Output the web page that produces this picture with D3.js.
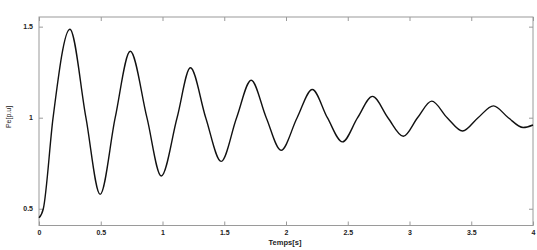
<!DOCTYPE html>
<html><head><meta charset="utf-8">
<script src="https://cdn.jsdelivr.net/npm/d3@7"></script>
<style>body{margin:0;background:#fff}svg{display:block}</style>
</head><body><svg id="c" width="537" height="250"></svg>
<script>
const xTicks = [0, 0.5, 1, 1.5, 2, 2.5, 3, 3.5, 4];
const xTickLabels = ["0", "0.5", "1", "1.5", "2", "2.5", "3", "3.5", "4"];
const yTicks = [0.5, 1, 1.5];
const yTickLabels = ["0.5", "1", "1.5"];
const time = [0, 0.035, 0.114, 0.25, 0.38, 0.495, 0.617, 0.739, 0.874, 0.99, 1.118, 1.226, 1.35, 1.475, 1.6, 1.718, 1.84, 1.96, 2.09, 2.213, 2.335, 2.457, 2.58, 2.70, 2.825, 2.95, 3.065, 3.18, 3.305, 3.43, 3.555, 3.68, 3.80, 3.92, 4.0];
const pe   = [0.45, 0.5, 1.0, 1.486, 1.0, 0.579, 1.0, 1.365, 1.0, 0.68, 1.0, 1.274, 1.0, 0.76, 1.0, 1.206, 1.0, 0.821, 1.0, 1.155, 1.0, 0.867, 1.0, 1.117, 1.0, 0.898, 1.0, 1.091, 1.0, 0.927, 1.0, 1.065, 1.0, 0.946, 0.96];

const svg = d3.select("#c");
const L = 39, R = 533, T = 17, B = 225.5;
const x = d3.scaleLinear().domain([0, 4]).range([L, R]);
const y = d3.scaleLinear().domain([0.408, 1.553]).range([B, T]);
const frame = "#9a9a9a";
const font = "Liberation Sans, Arial, sans-serif";

svg.append("rect").attr("x", L).attr("y", T).attr("width", R - L).attr("height", B - T)
  .attr("fill", "none").attr("stroke", frame).attr("stroke-width", 1);

const ax = d3.axisBottom(x).tickValues(xTicks).tickFormat((d, i) => xTickLabels[i]).tickSize(-4).tickPadding(5);
const gx = svg.append("g").attr("transform", `translate(0,${B})`).call(ax);
const axT = d3.axisTop(x).tickValues(xTicks).tickFormat("").tickSize(-4);
const gxt = svg.append("g").attr("transform", `translate(0,${T})`).call(axT);
const ay = d3.axisLeft(y).tickValues(yTicks).tickFormat((d, i) => yTickLabels[i]).tickSize(-4).tickPadding(6);
const gy = svg.append("g").attr("transform", `translate(${L},0)`).call(ay);
const ayR = d3.axisRight(y).tickValues(yTicks).tickFormat("").tickSize(-4);
const gyr = svg.append("g").attr("transform", `translate(${R},0)`).call(ayR);
[gx, gxt, gy, gyr].forEach(g => {
  g.select(".domain").remove();
  g.selectAll("line").attr("stroke", frame);
  g.selectAll("text").attr("fill", "#222").style("font-family", font).style("font-size", "7px").style("font-weight", "bold");
});

const line = d3.line().x((d, i) => x(time[i])).y(d => y(d)).curve(d3.curveMonotoneX);
svg.append("path").datum(pe).attr("d", line).attr("fill", "none").attr("stroke", "#111").attr("stroke-width", 1.4);

svg.append("text").attr("x", 285).attr("y", 244.5).attr("text-anchor", "middle")
  .style("font-family", font).style("font-size", "7.5px").style("font-weight", "bold").attr("fill", "#222").text("Temps[s]");
svg.append("text").attr("transform", "translate(11,117) rotate(-90)").attr("text-anchor", "middle")
  .style("font-family", font).style("font-size", "7px").attr("fill", "#222").text("Pe[p.u]");
</script></body></html>
